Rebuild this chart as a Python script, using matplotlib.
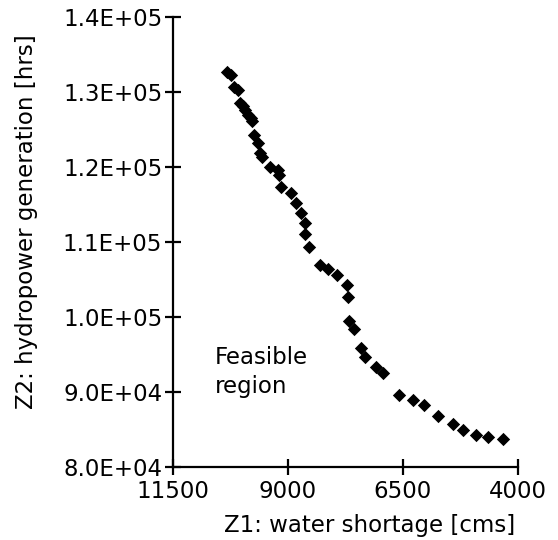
import matplotlib
matplotlib.use("Agg")
import matplotlib.pyplot as plt
from matplotlib.ticker import FuncFormatter

# Pareto front
water_shortage = [10320, 10233, 10167, 10080, 10037, 9980, 9928, 9863, 9800, 9776,
                  9733, 9646, 9602, 9559, 9385, 9211, 9189, 9146, 8928, 8820,
                  8711, 8624, 8624, 8537, 8298, 8124, 7928, 7711, 7689, 7667,
                  7559, 7406, 7320, 7080, 6928, 6580, 6276, 6037, 5733, 5407,
                  5189, 4907, 4646, 4320]
hydropower = [132667, 132267, 130667, 130267, 128533, 128100, 127600, 126933, 126500, 126133,
              124267, 123200, 121867, 121333, 120000, 119600, 118933, 117333, 116533, 115200,
              113867, 112533, 111067, 109333, 106933, 106400, 105600, 104267, 102667, 99467,
              98400, 95867, 94667, 93333, 92533, 89600, 88933, 88267, 86800, 85733,
              84933, 84267, 84000, 83733]

x_ticks = [11500, 9000, 6500, 4000]
y_ticks = [80000, 90000, 100000, 110000, 120000, 130000, 140000]

plt.rcParams['font.family'] = ['DejaVu Sans']
fs = 16.5

fig = plt.figure(figsize=(5.58, 5.40), dpi=100)
ax = fig.add_axes([0.3095, 0.1352, 0.6183, 0.8333])

ax.scatter(water_shortage, hydropower, marker='D', s=46, color='black', linewidths=0, zorder=3)

ax.set_xlim(11500, 4000)
ax.set_ylim(80000, 140000)
ax.set_xticks(x_ticks)
ax.set_yticks(y_ticks)
ax.yaxis.set_major_formatter(FuncFormatter(lambda v, p: f"{v:.1E}"))

for s in ['top', 'right']:
    ax.spines[s].set_visible(False)
for s in ['left', 'bottom']:
    ax.spines[s].set_linewidth(1.6)

ax.tick_params(axis='both', direction='inout', length=11, width=1.6, labelsize=fs)
ax.tick_params(axis='x', pad=4)
ax.tick_params(axis='y', pad=2)

ax.set_xlabel('Z1: water shortage [cms]', fontsize=fs)
ax.set_ylabel('Z2: hydropower generation [hrs]', fontsize=fs)
ax.xaxis.set_label_coords(0.572, -0.104)
ax.yaxis.set_label_coords(-0.39, 0.545)

ax.text(10580, 96100, 'Feasible\nregion', fontsize=fs, ha='left', va='top', linespacing=1.3)

fig.savefig('out.png', dpi=100)
